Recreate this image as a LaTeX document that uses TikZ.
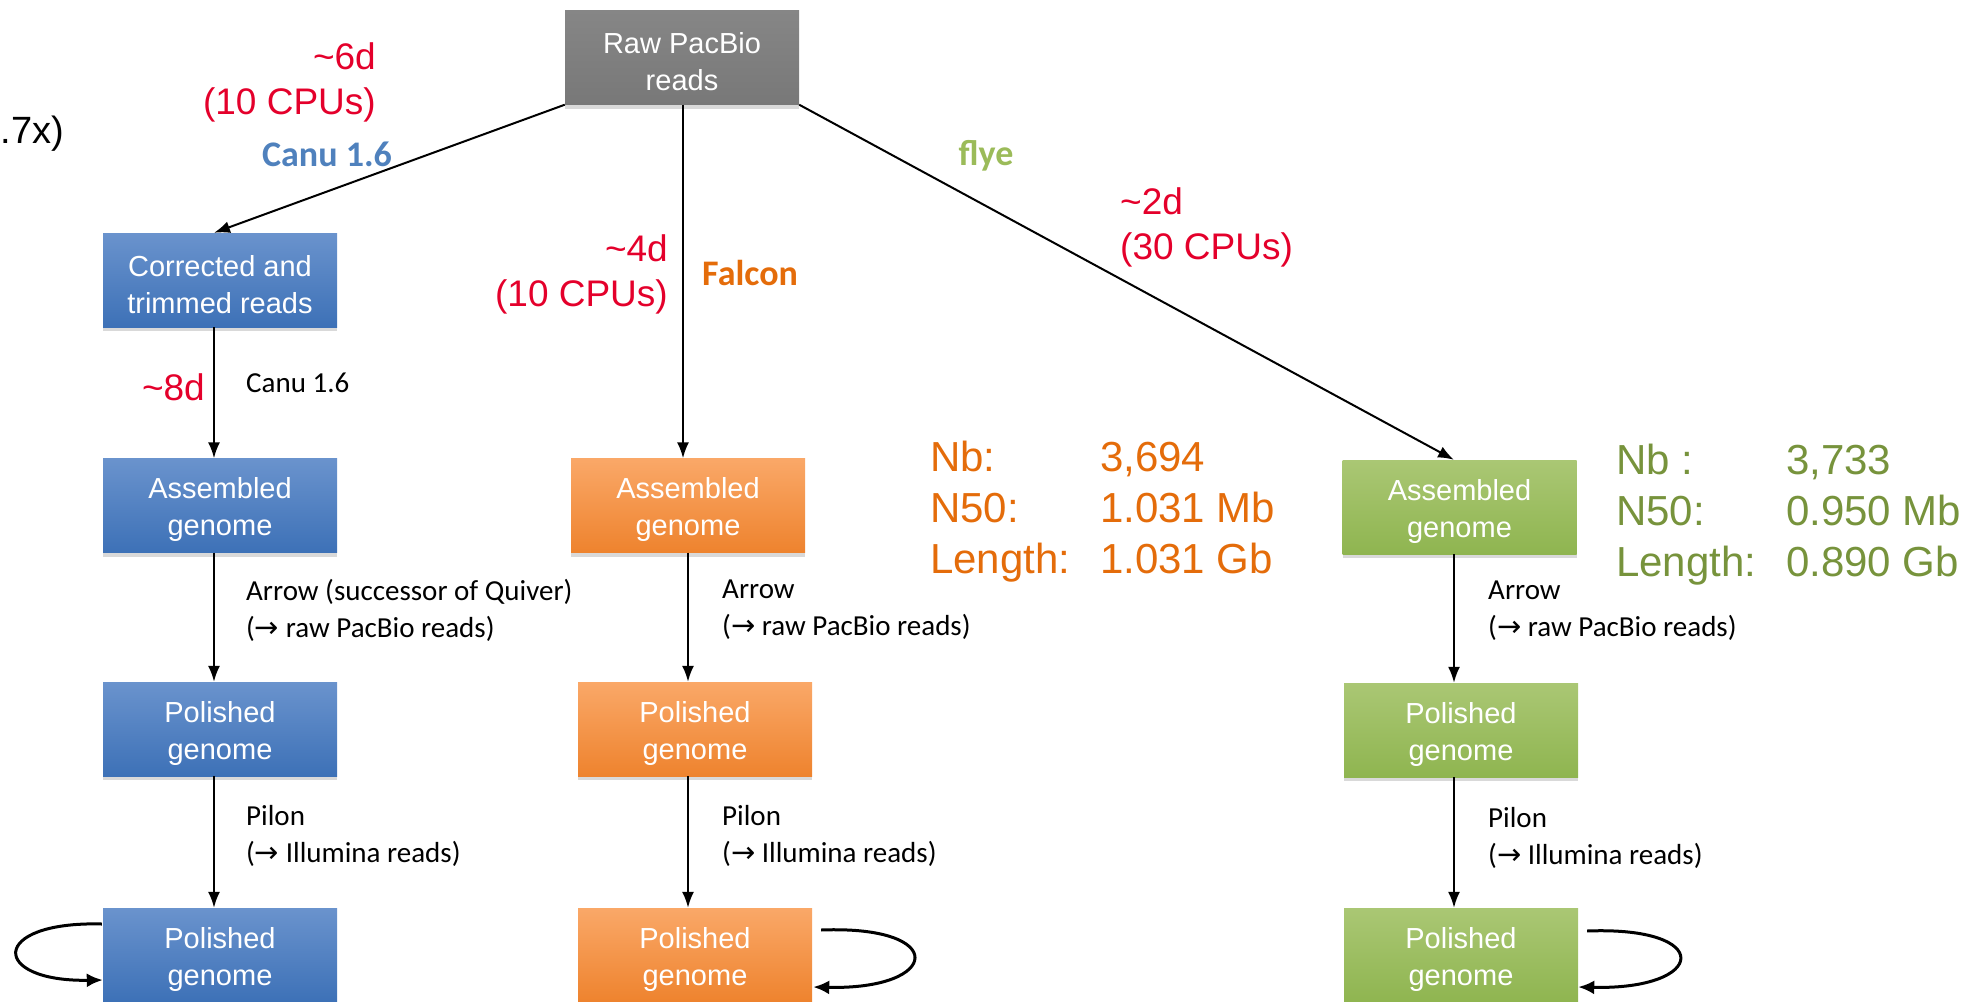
\documentclass[tikz,border=0pt]{standalone}
\usepackage{fontspec}
\setmainfont{Liberation Sans}
\newfontfamily\calib{Carlito}
\newfontfamily\symf{DejaVu Sans}
\usetikzlibrary{arrows.meta,shadows,calc}
\definecolor{redlab}{RGB}{228,0,43}
\definecolor{bluelab}{RGB}{79,129,189}
\definecolor{orangelab}{RGB}{228,108,10}
\definecolor{greenlab}{RGB}{155,187,89}
\definecolor{greenstat}{RGB}{119,147,60}
\definecolor{bluetop}{RGB}{106,147,205}
\definecolor{bluebot}{RGB}{61,113,183}
\definecolor{orangetop}{RGB}{250,168,104}
\definecolor{orangebot}{RGB}{238,131,46}
\definecolor{greentop}{RGB}{170,199,116}
\definecolor{greenbot}{RGB}{143,181,80}
\definecolor{graytop}{RGB}{134,134,134}
\definecolor{graybot}{RGB}{120,120,120}
\newcommand{\rarr}{{\symf\fontsize{29}{29}\selectfont →}}
\begin{document}
\begin{tikzpicture}[x=1pt,y=-1pt,
  box/.style={rectangle, minimum width=234pt, minimum height=94pt, inner sep=0pt,
    text=white, align=center, font=\fontsize{29}{37}\selectfont, text height=67pt,
    drop shadow={shadow xshift=0pt, shadow yshift=-4pt, opacity=0.3}},
  bluebox/.style={box, top color=bluetop, bottom color=bluebot},
  orangebox/.style={box, top color=orangetop, bottom color=orangebot},
  greenbox/.style={box, top color=greentop, bottom color=greenbot},
  graybox/.style={box, top color=graytop, bottom color=graybot},
  conn/.style={line width=2pt, -{Latex[length=16pt,width=12pt]}},
  loopc/.style={line width=3pt, -{Latex[length=16pt,width=14pt]}},
  toollab/.style={font=\calib\bfseries\fontsize{36}{44}\selectfont, inner sep=0pt},
  timelab/.style={text=redlab, font=\fontsize{37}{45}\selectfont, inner sep=0pt},
  steplab/.style={font=\calib\fontsize{29}{37}\selectfont, align=left, anchor=west, inner sep=0pt},
  statlab/.style={font=\fontsize{42}{51}\selectfont, inner sep=0pt, anchor=west}
]
\useasboundingbox (0,0) rectangle (1969,1001);
\clip (0,0) rectangle (1969,1001);

% boxes
\node[graybox] (raw) at (682,57.5) {Raw PacBio\\reads};
\node[bluebox] (corr) at (220,280) {Corrected and\\trimmed reads};
\node[bluebox] (bA) at (220,505.5) {Assembled\\genome};
\node[bluebox] (bP1) at (220,729) {Polished\\genome};
\node[bluebox] (bP2) at (220,955) {Polished\\genome};
\node[orangebox] (oA) at (688,505.5) {Assembled\\genome};
\node[orangebox] (oP1) at (695,729) {Polished\\genome};
\node[orangebox] (oP2) at (695,955) {Polished\\genome};
\node[greenbox] (gA) at (1459.5,507) {Assembled\\genome};
\node[greenbox] (gP1) at (1461,730) {Polished\\genome};
\node[greenbox] (gP2) at (1461,955) {Polished\\genome};

% column positions of the vertical connectors
\coordinate (bx) at (214,0);
\coordinate (fx) at (683,0);
\coordinate (ox) at (688,0);
\coordinate (gx) at (1454,0);

% connectors
\draw[conn] (raw.south west) -- (corr.north -| bx);
\draw[conn] (raw.south -| fx) -- (oA.north -| fx);
\draw[conn] (raw.south east) -- (gA.north -| gx);
\draw[conn] (corr.south -| bx) -- (bA.north -| bx);
\draw[conn] (bA.south -| bx) -- (bP1.north -| bx);
\draw[conn] (bP1.south -| bx) -- (bP2.north -| bx);
\draw[conn] (oA.south -| ox) -- (oP1.north -| ox);
\draw[conn] (oP1.south -| ox) -- (oP2.north -| ox);
\draw[conn] (gA.south -| gx) -- (gP1.north -| gx);
\draw[conn] (gP1.south -| gx) -- (gP2.north -| gx);

% iteration loops
\draw[loopc] ($(bP2.west)+(-1,-31)$) .. controls ($(bP2.west)+(-114,-34)$) and ($(bP2.west)+(-113,27)$) .. ($(bP2.west)+(0,25)$);
\draw[loopc] ($(oP2.east)+(9,-25)$) .. controls ($(oP2.east)+(137,-30)$) and ($(oP2.east)+(129,35)$) .. ($(oP2.east)+(1,32)$);
\draw[loopc] ($(gP2.east)+(9,-24)$) .. controls ($(gP2.east)+(137,-29)$) and ($(gP2.east)+(129,35)$) .. ($(gP2.east)+(0,32)$);

% tool labels
\node[toollab, text=bluelab] (canu) at (327,154) {Canu 1.6};
\node[toollab, text=orangelab, anchor=west] (falcon) at (702,273) {Falcon};
\node[toollab, text=greenlab] (flye) at (986,156) {flye};

% time labels
\node[timelab, align=right, anchor=east] (t6) at (376,82) {\textasciitilde6d\\(10 CPUs)};
\node[timelab, align=right, anchor=east] (t4) at (668,274) {\textasciitilde4d\\(10 CPUs)};
\node[timelab, align=left, anchor=west] (t2) at (1120,227) {\textasciitilde2d\\(30 CPUs)};
\node[timelab, anchor=east] (t8) at (205,387) {\textasciitilde8d};

\node[font=\fontsize{38}{45}\selectfont, anchor=east, inner sep=0pt] (cov) at (64,134) {.7x)};

% step labels
\node[steplab] (canu2) at (246,383) {Canu 1.6};
\node[steplab] (arB) at (246,610) {Arrow (successor of Quiver)\\(\rarr{} raw PacBio reads)};
\node[steplab] (arO) at (722,610) {Arrow\\(\rarr{} raw PacBio reads)};
\node[steplab] (arG) at (1488,611) {Arrow\\(\rarr{} raw PacBio reads)};
\node[steplab] (piB) at (246,836) {Pilon\\(\rarr{} Illumina reads)};
\node[steplab] (piO) at (722,836) {Pilon\\(\rarr{} Illumina reads)};
\node[steplab] (piG) at (1488,838) {Pilon\\(\rarr{} Illumina reads)};

% statistics
\node[statlab, text=orangelab] (statO) at (930,512) {\begin{tabular}{@{}p{170pt}@{}l@{}}Nb: & 3,694\\ N50: & 1.031 Mb\\ Length: & 1.031 Gb\end{tabular}};
\node[statlab, text=greenstat] (statG) at (1616,515) {\begin{tabular}{@{}p{170pt}@{}l@{}}Nb : & 3,733\\ N50: & 0.950 Mb\\ Length: & 0.890 Gb\end{tabular}};
\end{tikzpicture}
\end{document}
